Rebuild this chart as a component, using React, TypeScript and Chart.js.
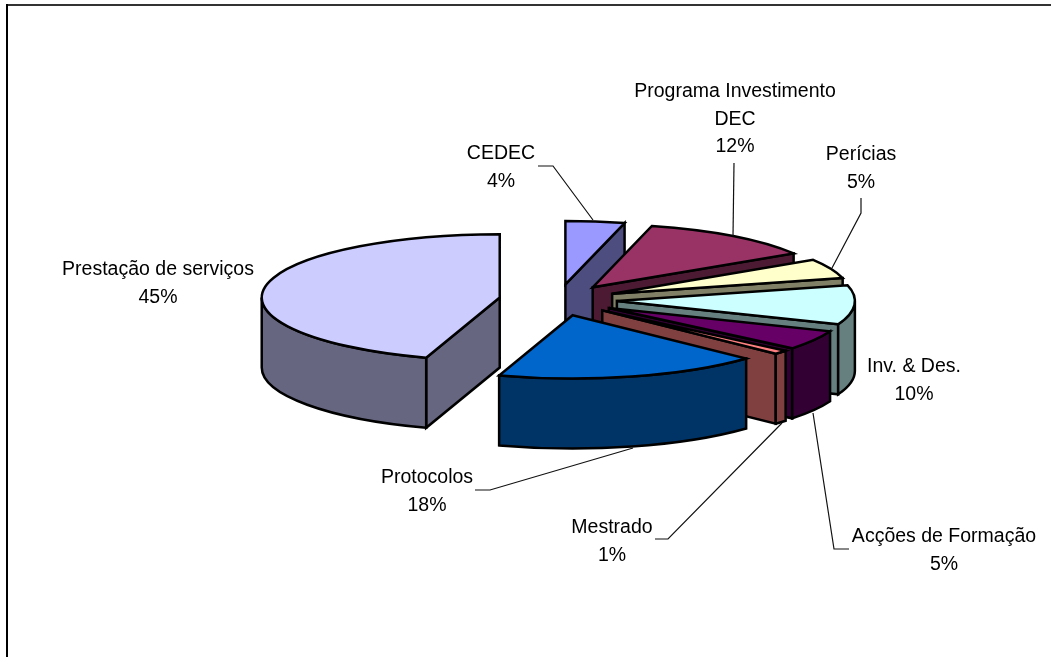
import React, { useEffect, useRef } from "react";
import { Chart, registerables } from "chart.js";

Chart.register(...registerables);

const categories = [
  ["CEDEC"],
  ["Programa Investimento", "DEC"],
  ["Perícias"],
  ["Inv. & Des."],
  ["Acções de Formação"],
  ["Mestrado"],
  ["Protocolos"],
  ["Prestação de serviços"],
];
const shares = [4, 12, 5, 10, 5, 1, 18, 45];
const topColors = ["#9999FF", "#993366", "#FFFFCC", "#CCFFFF", "#660066", "#FF8080", "#0066CC", "#CCCCFF"];
const sideColors = ["#4D4D80", "#4D1A33", "#808066", "#668080", "#330033", "#804040", "#003366", "#666680"];

// layout of the labels: centre x, first baseline
const labelAnchors = [
  [501, 159], [735, 97], [861, 160], [914, 372], [944, 542], [612, 533], [427, 483], [158, 275],
];
const LINE_HEIGHT = 27.6;
// leader polylines; empty when the slice has none
const leaderPaths: number[][][] = [
  [[538, 166], [553, 166], [593, 220]],
  [[734, 163], [733, 236]],
  [[861, 198], [861, 213], [832, 268]],
  [],
  [[849, 549], [834, 549], [813, 413]],
  [[655, 539], [668, 539], [782, 423]],
  [[475, 490], [490, 490], [633, 448]],
  [],
];

const TILT = 0.266;
const DEPTH = 70;
const RADIUS = 238;
const EXPLODE = 59;

const pie3d = {
  id: "pie3d",
  beforeDatasetDraw(chart: any, args: any) {
    const ctx: CanvasRenderingContext2D = chart.ctx;
    const arcs = chart.getDatasetMeta(args.index).data;

    ctx.save();
    ctx.lineWidth = 2.5;
    ctx.lineJoin = "miter";
    ctx.strokeStyle = "#000";

    arcs.forEach((arc: any, i: number) => {
      const { x: cx, y: cy, startAngle: a1, endAngle: a2, outerRadius: r } = arc.getProps(
        ["x", "y", "startAngle", "endAngle", "outerRadius"],
        true,
      );
      const mid = (a1 + a2) / 2;
      const off = arc.options.offset;
      const ax = cx + Math.cos(mid) * off;
      const ay = cy + Math.sin(mid) * off * TILT;
      const rimX = (a: number) => ax + Math.cos(a) * r;
      const rimY = (a: number) => ay + Math.sin(a) * r * TILT;

      const wall = (a: number) => {
        ctx.beginPath();
        ctx.moveTo(ax, ay);
        ctx.lineTo(rimX(a), rimY(a));
        ctx.lineTo(rimX(a), rimY(a) + DEPTH);
        ctx.lineTo(ax, ay + DEPTH);
        ctx.closePath();
        ctx.fillStyle = sideColors[i];
        ctx.fill();
        ctx.stroke();
      };
      if (Math.cos(a1) < -1e-6) wall(a1);
      if (Math.cos(a2) > 1e-6) wall(a2);

      // visible part of the outer wall: the front half of the ellipse
      const from = Math.max(a1, 0);
      const to = Math.min(a2, Math.PI);
      if (to > from) {
        ctx.beginPath();
        ctx.ellipse(ax, ay, r, r * TILT, 0, from, to);
        ctx.lineTo(rimX(to), rimY(to) + DEPTH);
        ctx.ellipse(ax, ay + DEPTH, r, r * TILT, 0, to, from, true);
        ctx.closePath();
        ctx.fillStyle = sideColors[i];
        ctx.fill();
        ctx.stroke();
      }

      ctx.beginPath();
      ctx.moveTo(ax, ay);
      ctx.ellipse(ax, ay, r, r * TILT, 0, a1, a2);
      ctx.closePath();
      ctx.fillStyle = topColors[i];
      ctx.fill();
      ctx.stroke();
    });
    ctx.restore();
    return false;
  },
  afterDraw(chart: any) {
    const ctx: CanvasRenderingContext2D = chart.ctx;
    ctx.save();

    // chart frame: only the top and left edges fall inside the picture
    ctx.fillStyle = "#333";
    ctx.fillRect(7, 4, 1044, 2);
    ctx.fillStyle = "#000";
    ctx.fillRect(6, 4, 2, 653);

    ctx.strokeStyle = "#111";
    ctx.lineWidth = 1.2;
    leaderPaths.forEach((path) => {
      if (!path.length) return;
      ctx.beginPath();
      path.forEach(([x, y], k) => (k ? ctx.lineTo(x, y) : ctx.moveTo(x, y)));
      ctx.stroke();
    });

    ctx.fillStyle = "#000";
    ctx.font = '19.5px "Liberation Sans", Arial, sans-serif';
    ctx.textAlign = "center";
    ctx.textBaseline = "alphabetic";
    chart.data.labels.forEach((lines: string[], i: number) => {
      const [x, y] = labelAnchors[i];
      [...lines, `${shares[i]}%`].forEach((t, k) => ctx.fillText(t, x, y + k * LINE_HEIGHT));
    });
    ctx.restore();
  },
};

export default function App() {
  const ref = useRef<HTMLCanvasElement>(null);
  useEffect(() => {
    const chart = new Chart(ref.current!, {
      type: "pie",
      data: {
        labels: categories,
        datasets: [
          {
            data: shares,
            backgroundColor: topColors,
            offset: EXPLODE,
            borderWidth: 0,
          },
        ],
      },
      options: {
        responsive: false,
        animation: false,
        events: [],
        radius: RADIUS,
        rotation: 0,
        layout: { padding: { left: 65, bottom: 57 } },
        plugins: { legend: { display: false }, tooltip: { enabled: false } },
      },
      plugins: [pie3d],
    } as any);
    return () => chart.destroy();
  }, []);
  return (
    <div style={{ position: "fixed", left: 0, top: 0, width: 1051, height: 657, background: "#fff" }}>
      <canvas ref={ref} width={1051} height={657} style={{ display: "block" }} />
    </div>
  );
}
